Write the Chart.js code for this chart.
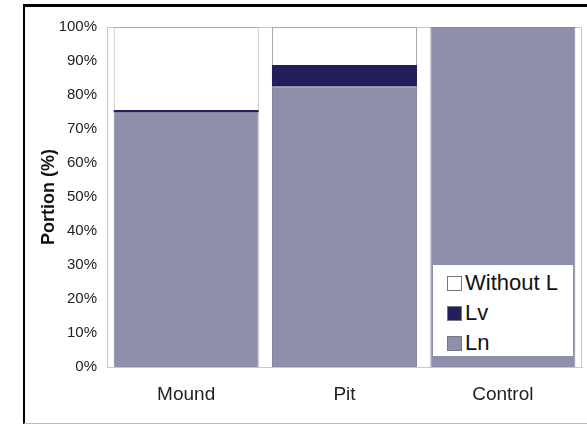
<!DOCTYPE html>
<html>
<head>
<meta charset="utf-8">
<script src="https://cdn.jsdelivr.net/npm/chart.js@4.4.0/dist/chart.umd.min.js"></script>
<style>
  html, body { margin: 0; padding: 0; background: #fff; }
  #wrap { position: relative; width: 587px; height: 424px; overflow: hidden; }
  #frame {
    position: absolute; left: 23px; top: 4px; width: 570px; height: 416px;
    border-top: 3px solid #000; border-left: 2px solid #000; border-bottom: 1px solid #bbb;
    pointer-events: none;
  }
  #legend {
    position: absolute; left: 433px; top: 265px; width: 140px; height: 91px;
    background: #fff; font-family: "Liberation Sans", Arial, sans-serif;
    font-size: 22px; color: #111;
  }
  .item { position: absolute; left: 14px; height: 26px; line-height: 26px; white-space: nowrap; }
  .item span.sw {
    display: inline-block; width: 13px; height: 13px; border: 1px solid #777;
    margin-right: 3px; vertical-align: -1px;
  }
</style>
</head>
<body>
<div id="wrap">
  <canvas id="chart" width="587" height="424"></canvas>
  <div id="frame"></div>
  <div id="legend"></div>
</div>
<script>
const categories = ["Mound", "Pit", "Control"];
const seriesNames = ["Without L", "Lv", "Ln"];
const lnValues = [75, 82.5, 100];
const lvValues = [0.6, 6.3, 0];
const withoutValues = [24.4, 11.2, 0];
const yTicks = [0, 10, 20, 30, 40, 50, 60, 70, 80, 90, 100];

const colors = {
  "Without L": "#ffffff",
  "Lv": "#221f5c",
  "Ln": "#8f8fab"
};

// legend drawn as html, inside the plot area like the original
const legendEl = document.getElementById("legend");
seriesNames.forEach((name, i) => {
  const row = document.createElement("div");
  row.className = "item";
  row.style.top = (5 + i * 30) + "px";
  row.innerHTML = '<span class="sw" style="background:' + colors[name] + '"></span>' + name;
  legendEl.appendChild(row);
});

const plotBorder = {
  id: "plotBorder",
  beforeDatasetsDraw(chart) {
    const a = chart.chartArea;
    const ctx = chart.ctx;
    ctx.save();
    ctx.strokeStyle = "#c8c8c8";
    ctx.lineWidth = 1;
    ctx.strokeRect(a.left + 0.5, a.top + 0.5, a.right - a.left - 1, a.bottom - a.top);
    ctx.restore();
  }
};

const font = "'Liberation Sans', Arial, sans-serif";

new Chart(document.getElementById("chart"), {
  type: "bar",
  data: {
    labels: categories,
    datasets: [
      { label: "Ln", data: lnValues, backgroundColor: colors["Ln"], borderColor: "#85859f", borderWidth: 1 },
      { label: "Lv", data: lvValues, backgroundColor: colors["Lv"], borderColor: colors["Lv"], borderWidth: 0 },
      { label: "Without L", data: withoutValues, backgroundColor: colors["Without L"], borderColor: "#a8a8a8", borderWidth: 1 }
    ]
  },
  options: {
    responsive: false,
    animation: false,
    layout: { padding: { left: 30, top: 27, right: 5, bottom: 10 } },
    datasets: { bar: { categoryPercentage: 1.0, barPercentage: 0.916 } },
    plugins: { legend: { display: false }, tooltip: { enabled: false } },
    scales: {
      x: {
        stacked: true,
        grid: { display: false, drawTicks: false },
        border: { display: true, color: "#c8c8c8" },
        ticks: { padding: 16, color: "#222", font: { family: font, size: 19 } },
        afterFit: (scale) => { scale.height = 47; }
      },
      y: {
        stacked: true,
        min: 0,
        max: 100,
        afterBuildTicks: (scale) => { scale.ticks = yTicks.map(v => ({ value: v })); },
        grid: { display: false, drawTicks: false },
        border: { display: true, color: "#c8c8c8" },
        ticks: {
          padding: 10, color: "#222",
          font: { family: font, size: 15 },
          callback: (v) => v + "%"
        },
        title: {
          display: true, text: "Portion (%)", color: "#111",
          font: { family: font, size: 18, weight: "bold" },
          padding: { top: 8, bottom: 0 }
        },
        afterFit: (scale) => { scale.width = 77; }
      }
    }
  },
  plugins: [plotBorder]
});
</script>
</body>
</html>
